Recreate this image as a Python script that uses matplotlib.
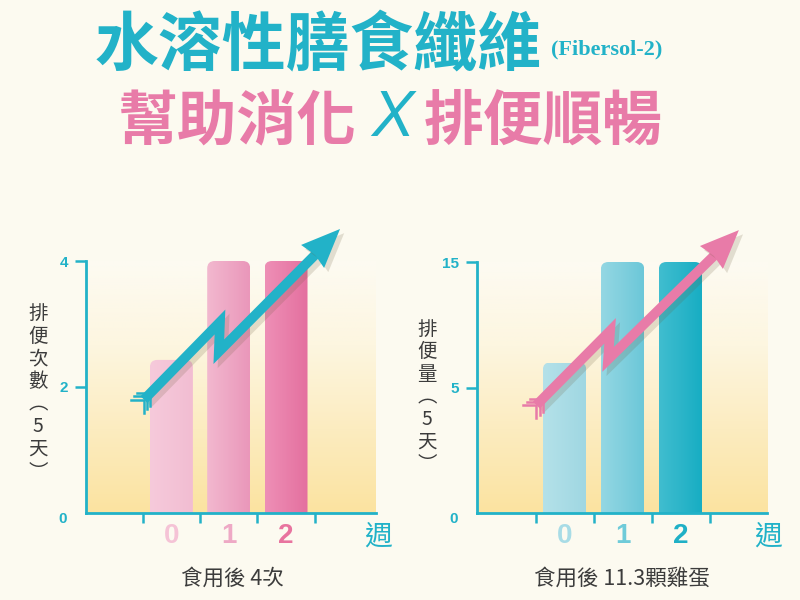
import numpy as np
import matplotlib.pyplot as plt
import matplotlib.patheffects as pe
from matplotlib.patches import FancyBboxPatch, Polygon
from matplotlib.colors import LinearSegmentedColormap

plt.rcParams['font.family'] = ['Noto Sans CJK TC', 'DejaVu Sans']

# data
weeks = [0, 1, 2]
week_labels = ['0', '1', '2']
stool_count = [2.43, 4, 4]      # 排便次數 (5天)
stool_amount = [7, 15, 15]      # 排便量 (5天)
count_ticks = [2, 4]
amount_ticks = [5, 15]

TEAL = '#22b2c8'
PINK = '#e87ba8'
BG = '#fcfaf0'
TEXT = '#3c3c3c'

pink_bars = [('#f6cadb', '#f2bdd2'), ('#f2b8cf', '#ea97ba'), ('#ee8fb6', '#e4709f')]
teal_bars = [('#b4e1e9', '#9fd7e2'), ('#94d7e3', '#6bc7d8'), ('#40bdcf', '#17adc3')]
pink_nums = ['#f5c3d6', '#eea9c5', '#e8749f']
teal_nums = ['#a8dce6', '#6fcbd9', '#1fb0c6']

fig = plt.figure(figsize=(8, 6), dpi=100, facecolor=BG)

bg_cmap = LinearSegmentedColormap.from_list('bg', ['#fbe3a0', '#fcecc0', '#fdf6e0', '#fdfbf2'])


def fwd(y):
    y = np.asarray(y, dtype=float)
    return np.where(y <= 5, y / 5.0, 1 + (y - 5) / 10.0)


def inv(u):
    u = np.asarray(u, dtype=float)
    return np.where(u <= 1, u * 5.0, 5 + (u - 1) * 10.0)


def px(dx, dy):
    # pixel offsets -> axes fraction (axes are 290 x 252 px)
    return dx / 290.0, dy / 252.0


def zigzag_arrow(ax, pts, tip, color):
    notch = (tip[0] - 0.086, tip[1] - 0.103)
    b1 = px(-14, 10)
    b2 = px(9, -13)
    head = [tip, (notch[0] + b1[0], notch[1] + b1[1]), notch,
            (notch[0] + b2[0], notch[1] + b2[1])]
    xs = [p[0] for p in pts] + [notch[0] + 0.01]
    ys = [p[1] for p in pts] + [notch[1] + 0.012]
    shadow = [pe.SimpleLineShadow(offset=(3, -3), shadow_color='#6b5a3a', alpha=0.18), pe.Normal()]
    ax.plot(xs, ys, transform=ax.transAxes, color=color, lw=7, solid_joinstyle='miter',
            solid_capstyle='butt', clip_on=False, zorder=6, path_effects=shadow)
    ax.add_patch(Polygon(head, closed=True, transform=ax.transAxes, facecolor=color,
                         edgecolor='none', clip_on=False, zorder=7,
                         path_effects=[pe.SimplePatchShadow(offset=(3, -3), shadow_rgbFace='#6b5a3a', alpha=0.18), pe.Normal()]))
    # fletching at the tail: arms going left and down
    tx, ty = pts[0]
    for k in range(3):
        vx, vy = tx + 3.2 * k / 290.0, ty + 3.2 * k / 252.0
        ax.plot([vx - 13 / 290.0, vx, vx], [vy, vy, vy - 13 / 252.0],
                transform=ax.transAxes, color=color, lw=1.8, clip_on=False, zorder=6,
                solid_joinstyle='miter')


def panel(rect, values, yticks, ylim, xlim, bar_cols, num_cols, scaled, label_x):
    ax = fig.add_axes(rect)
    ax.set_facecolor('none')
    if scaled:
        ax.set_yscale('function', functions=(fwd, inv))
    ax.set_xlim(*xlim)
    ax.set_ylim(*ylim)

    ax.imshow(np.linspace(0, 1, 256)[:, None], cmap=bg_cmap, origin='lower', aspect='auto',
              extent=[0, 1, 0, 1], transform=ax.transAxes, zorder=0)

    bars = ax.bar(weeks, values, width=0.75, color='none', zorder=2)
    y_px = (10.0 / 125.5) if scaled else (ylim[1] / 252.0)
    x_px = (xlim[1] - xlim[0]) / 290.0
    for rect_, (c0, c1) in zip(bars, bar_cols):
        x0, w, h = rect_.get_x(), rect_.get_width(), rect_.get_height()
        patch = FancyBboxPatch((x0, -h * 0.3), w, h * 1.3,
                               boxstyle='round,pad=0,rounding_size=0.13',
                               mutation_aspect=y_px / x_px, transform=ax.transData,
                               facecolor='none', edgecolor='none')
        ax.add_patch(patch)
        grad = LinearSegmentedColormap.from_list('b', [c0, c1])
        im = ax.imshow(np.linspace(0, 1, 64)[None, :], cmap=grad, aspect='auto',
                       extent=[x0, x0 + w, 0, h], zorder=3, interpolation='bilinear')
        im.set_clip_path(patch)
    ax.set_xlim(*xlim)
    ax.set_ylim(*ylim)

    for s in ('top', 'right'):
        ax.spines[s].set_visible(False)
    for s in ('left', 'bottom'):
        ax.spines[s].set_color(TEAL)
        ax.spines[s].set_linewidth(2)
        ax.spines[s].set_zorder(5)

    ax.set_xticks([-0.5, 0.5, 1.5, 2.5])
    ax.set_xticklabels([])
    ax.tick_params(axis='x', direction='out', length=7, width=1.8, color=TEAL)
    ax.set_yticks(yticks)
    ax.set_yticklabels([str(t) for t in yticks])
    ax.tick_params(axis='y', direction='out', length=8, width=1.8, color=TEAL, pad=5,
                   labelcolor=TEAL, labelsize=11)
    for t in ax.get_yticklabels():
        t.set_fontweight('bold')
        t.set_family(['Liberation Sans', 'DejaVu Sans'])
    ax.annotate('0', xy=(0, 0), xycoords=('axes fraction', 'data'), xytext=(-17, -4),
                textcoords='offset points', ha='center', va='center', color=TEAL,
                fontsize=11, fontweight='bold', family=['Liberation Sans', 'DejaVu Sans'],
                annotation_clip=False)

    for w, lab, c in zip(weeks, week_labels, num_cols):
        ax.text(w, -0.092, lab, transform=ax.get_xaxis_transform(), ha='center', va='center',
                fontsize=20, fontweight='bold', color=c, family=['Liberation Sans', 'DejaVu Sans'])
    ax.text(label_x, -0.095, '週', transform=ax.get_xaxis_transform(), ha='center',
            va='center', fontsize=20, color=TEAL)
    return ax


axL = panel([86 / 800, 87 / 600, 290 / 800, 252 / 600], stool_count, count_ticks, (0, 4),
            (-1.49, 3.57), pink_bars, pink_nums, False, 3.6)
axR = panel([477 / 800, 87 / 600, 290 / 800, 251 / 600], stool_amount, amount_ticks, (0, 15),
            (-1.51, 3.49), teal_bars, teal_nums, True, 3.51)

zigzag_arrow(axL, [(0.2, 0.45), (0.462, 0.758), (0.458, 0.640)], (0.876, 1.127), TEAL)
zigzag_arrow(axR, [(0.205, 0.43), (0.459, 0.726), (0.452, 0.612)], (0.903, 1.127), PINK)

# axis captions
fig.text(38 / 800, 1 - 393 / 600, '\n'.join('排便次數︵5天︶'), fontsize=14, linespacing=1.1,
         ha='center', va='center', color=TEXT)
fig.text(427 / 800, 1 - 397 / 600, '\n'.join('排便量︵5天︶'), fontsize=14, linespacing=1.1,
         ha='center', va='center', color=TEXT)
fig.text(232 / 800, 1 - 579 / 600, '食用後 4次', fontsize=15.5, ha='center', va='center', color=TEXT)
fig.text(622 / 800, 1 - 579 / 600, '食用後 11.3顆雞蛋', fontsize=15.5, ha='center', va='center', color=TEXT)

# titles
fig.text(95 / 800, 1 - 47 / 600, '水溶性膳食纖維', fontsize=46, color=TEAL, fontweight='bold',
         ha='left', va='center')
fig.text(551 / 800, 1 - 49 / 600, '(Fibersol-2)', fontsize=16, color=TEAL, fontweight='bold',
         ha='left', va='center', family=['Liberation Serif', 'DejaVu Serif'])
fig.text(118 / 800, 1 - 123 / 600, '幫助消化', fontsize=43, color=PINK, fontweight='heavy',
         ha='left', va='center', style='italic')
fig.text(393 / 800, 1 - 119 / 600, 'X', fontsize=46, color=TEAL, ha='center', va='center',
         style='italic', family=['Liberation Sans', 'DejaVu Sans'])
fig.text(424 / 800, 1 - 123 / 600, '排便順暢', fontsize=43, color=PINK, fontweight='heavy',
         ha='left', va='center', style='italic')

fig.savefig('out.png', dpi=100, facecolor=BG)
